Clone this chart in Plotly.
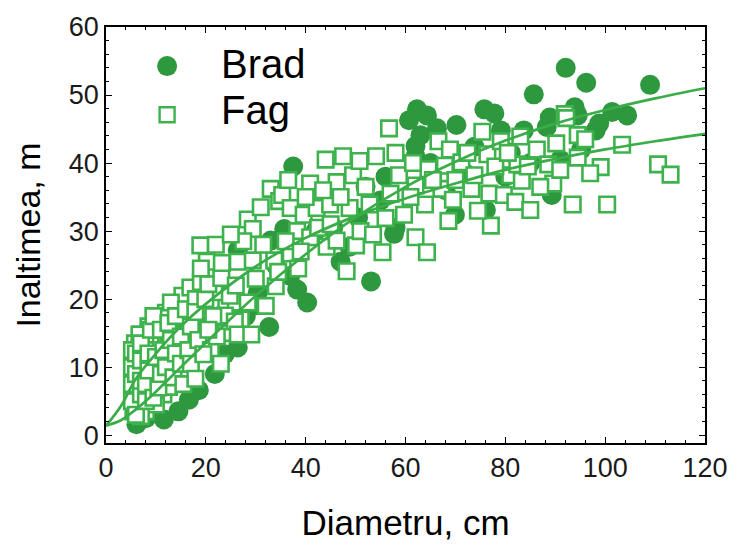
import plotly.graph_objects as go

# ---------------- data ----------------
brad_x = [37.5, 92.1, 96.2, 109.0, 85.7, 62.3, 64.3, 75.8, 77.8, 70.2, 93.9, 88.9, 94.5,
          98.8, 101.4, 104.4, 98.1, 60.7, 63.0, 66.3, 73.8, 79.1, 83.7, 88.3, 95.2, 62.0,
          81.1, 89.3, 76.1, 69.9, 58.0, 53.1, 40.3, 32.7, 26.4, 33.0, 35.7, 38.3, 36.9,
          30.4, 23.8, 18.6, 11.6, 6.1, 26.4, 57.7, 48.8, 30.4, 21.8, 16.6, 9.3,
          45.5, 50.5, 55.0, 47.0, 62.0, 65.0, 72.0, 80.0, 85.0, 91.0, 68.0, 56.0, 52.0,
          13.0, 14.5, 8.0, 20.0, 28.0, 34.0, 42.0, 24.0]
brad_y = [39.5, 54.0, 51.8, 51.5, 50.1, 47.9, 47.0, 47.9, 47.3, 45.6, 48.2, 46.7, 47.0,
          45.8, 47.5, 47.0, 44.8, 46.3, 44.1, 45.1, 42.4, 44.8, 44.8, 45.3, 42.0, 41.0,
          41.5, 35.3, 33.1, 32.4, 30.5, 22.6, 19.5, 15.9, 27.2, 28.6, 30.3, 21.4, 23.4,
          21.0, 11.9, 6.6, 2.3, 1.6, 12.9, 29.6, 27.7, 19.1, 9.0, 5.2, 4.3,
          30.5, 32.0, 34.5, 25.5, 42.5, 40.0, 38.5, 38.0, 40.0, 40.5, 36.0, 38.0, 36.5,
          7.5, 3.5, 2.5, 16.0, 17.5, 25.0, 30.0, 21.0]

fag_x = [5.5, 5.5, 5.5, 5.5, 5.8, 6.2, 6.5, 6.5, 6.8, 7.0, 7.5, 7.5, 8.0, 8.0, 8.5, 9.0,
         9.0, 9.3, 9.5, 10.0, 10.0, 10.5, 10.5, 11.0, 11.5, 11.5, 12.0, 12.0, 12.6, 12.6,
         13.0, 13.5, 14.0, 14.3, 14.5, 15.0, 15.3, 15.5, 16.0, 16.9, 16.5, 6.7, 8.0, 10.0,
         7.0, 11.0, 13.0,
         5.2, 5.2, 5.2, 5.2, 6.0, 6.0, 6.0, 7.0, 7.0, 7.0, 7.0, 8.0, 8.0, 8.5, 8.5, 9.0,
         9.5, 9.5, 10.0, 10.5, 11.0, 11.0, 11.5, 12.0, 12.5, 13.0, 13.5, 14.0, 14.0, 15.0,
         15.0, 16.0, 16.5, 17.0, 18.0, 18.5, 19.0, 21.0, 22.5, 24.0, 26.0, 27.0, 21.0, 23.0,
         15.5, 17.0,
         17.9, 17.9, 18.9, 19.5, 19.9, 20.2, 20.5, 22.2, 23.1, 23.2, 23.8, 24.8, 25.8, 26.4,
         26.4, 28.4, 28.4, 29.1, 29.4, 29.4, 33.0, 33.7, 34.0, 34.7, 35.3, 37.0, 37.0, 38.3,
         39.6, 40.9, 40.9, 42.2, 44.2, 44.9, 46.2, 46.2, 48.2, 48.8, 49.5, 50.1, 50.8, 52.8,
         54.1, 55.4, 56.0, 56.7, 58.0, 58.7, 59.7, 62.0, 62.0, 63.9, 64.3, 64.6, 66.6, 67.2,
         67.9, 68.6, 68.9, 69.5, 71.2, 72.4, 73.2, 73.8, 75.4, 76.4, 76.8, 77.1, 79.1, 79.7,
         81.0, 82.0, 82.4, 83.0, 83.3, 85.0, 86.3, 88.6, 89.6, 90.2, 91.9, 92.2, 93.5, 94.5,
         94.5, 99.1, 100.4, 103.4, 110.6, 113.1,
         30.0, 31.5, 32.0, 36.0, 38.5, 40.0, 42.5, 43.5, 45.0, 47.0, 51.0, 52.0, 53.5, 57.0,
         61.0, 61.5, 65.5, 70.0, 74.5, 78.0, 80.5, 84.5, 87.0, 91.0, 96.0, 97.0, 26.0, 27.5,
         21.5, 22.0, 25.0, 31.0, 36.5, 44.0, 47.5, 20.5, 19.0, 34.5, 39.0]
fag_y = [3.5, 6.0, 8.5, 11.0, 13.5, 4.5, 7.0, 10.0, 12.5, 14.8, 5.5, 9.0, 11.5, 13.8, 16.0, 7.0,
         10.5, 14.3, 12.5, 8.5, 15.5, 17.0, 11.0, 13.5, 6.0, 9.5, 15.0, 18.0, 13.1, 7.1,
         11.0, 16.5, 19.0, 10.0, 13.5, 17.2, 20.5, 12.0, 15.0, 21.7, 9.5, 14.8, 3.5, 4.5,
         2.8, 17.5, 19.5,
         5.0, 7.5, 10.0, 12.5, 3.0, 9.0, 12.0, 6.0, 8.0, 11.0, 13.5, 5.0, 7.5, 9.5, 12.0, 15.5,
         5.5, 17.5, 11.5, 7.0, 9.0, 15.5, 12.5, 10.0, 16.5, 14.0, 8.5, 12.0, 17.5, 10.5,
         14.5, 18.5, 12.5, 16.0, 20.0, 14.0, 22.5, 19.0, 21.0, 15.0, 19.5, 17.0, 12.5, 10.5,
         7.5, 10.5,
         8.3, 18.1, 27.9, 11.9, 20.0, 25.5, 22.2, 14.5, 23.1, 25.3, 17.6, 20.5, 16.7, 14.8,
         25.5, 19.5, 31.7, 14.8, 25.7, 30.3, 36.2, 25.7, 21.9, 34.4, 35.3, 26.7, 33.4, 30.0,
         32.4, 37.0, 29.1, 33.4, 27.7, 33.9, 37.2, 28.6, 24.1, 33.4, 38.2, 27.9, 40.3, 33.9,
         41.0, 26.9, 31.9, 45.1, 41.5, 38.2, 32.4, 36.7, 29.1, 33.9, 26.9, 39.1, 43.2, 36.2,
         39.6, 31.5, 42.0, 34.6, 40.1, 41.5, 36.2, 38.2, 44.6, 41.3, 35.5, 30.8, 43.2, 35.3,
         38.2, 34.3, 39.8, 43.9, 37.4, 33.1, 42.0, 39.8, 37.0, 42.9, 47.2, 46.6, 33.9, 40.8,
         44.1, 39.4, 33.9, 42.7, 39.8, 38.3,
         23.0, 28.0, 19.0, 28.5, 24.5, 35.0, 30.5, 36.0, 31.0, 35.0, 30.0, 36.5, 29.5, 35.5,
         35.0, 40.0, 37.5, 37.5, 33.0, 39.5, 41.5, 39.5, 36.5, 39.0, 43.5, 38.5, 22.0, 28.5,
         17.5, 28.0, 29.5, 33.5, 37.5, 40.5, 41.0, 15.5, 24.5, 24.0, 27.0]

fit_x = [0, 3, 6, 10, 15, 20, 30, 40, 50, 60, 70, 80, 90, 100, 110, 120]
brad_fit_y = [1.4, 2.2, 3.8, 6.4, 10.0, 13.6, 20.5, 26.6, 32.0, 36.5, 40.2, 43.3, 45.8, 47.8, 49.5, 51.0]
fag_fit_y = [1.4, 4.3, 8.3, 12.0, 16.0, 19.3, 24.8, 29.0, 32.2, 34.8, 37.0, 39.0, 40.6, 42.0, 43.2, 44.3]

x_ticks = [0, 20, 40, 60, 80, 100, 120]
y_ticks = [0, 10, 20, 30, 40, 50, 60]

# ---------------- styles ----------------
BRAD_COL = "rgb(46,152,62)"
FAG_COL = "rgb(62,178,76)"
LINE_COL = "rgb(58,172,72)"
FONT = "Liberation Sans, Arial, sans-serif"

fig = go.Figure()
fig.add_trace(go.Scatter(x=brad_x, y=brad_y, mode="markers", name="Brad",
                         marker=dict(symbol="circle", size=20, color=BRAD_COL, line=dict(width=0))))
fig.add_trace(go.Scatter(x=fag_x, y=fag_y, mode="markers", name="Fag",
                         marker=dict(symbol="square", size=15.5, color="white",
                                     line=dict(width=2.6, color=FAG_COL))))
fig.add_trace(go.Scatter(x=fit_x, y=brad_fit_y, mode="lines", line=dict(color=LINE_COL, width=2.7, shape="spline"),
                         showlegend=False))
fig.add_trace(go.Scatter(x=fit_x, y=fag_fit_y, mode="lines", line=dict(color=LINE_COL, width=2.7, shape="spline"),
                         showlegend=False))

axis_common = dict(showline=True, linecolor="black", linewidth=1.5, mirror="allticks",
                   ticks="inside", ticklen=6, tickwidth=1.2, tickcolor="black",
                   showgrid=False, zeroline=False,
                   tickfont=dict(family=FONT, size=27, color="#1a1a1a"))

fig.update_xaxes(range=[0, 120], tickvals=x_ticks, **axis_common,
                 minor=dict(dtick=4, tick0=0, ticks="inside", ticklen=3, tickcolor="black", showgrid=False),
                 title=dict(text="Diametru, cm", font=dict(family=FONT, size=35, color="black"), standoff=28))
fig.update_yaxes(range=[-1.15, 60], tickvals=y_ticks, **axis_common,
                 minor=dict(dtick=2, tick0=0, ticks="inside", ticklen=3, tickcolor="black", showgrid=False),
                 title=dict(text="Inaltimea, m", font=dict(family=FONT, size=34, color="black"), standoff=18))

# custom legend
fig.add_shape(type="circle", xref="paper", yref="paper", xsizemode="pixel", ysizemode="pixel",
              xanchor=0.102, yanchor=0.906, x0=-10, x1=10, y0=-10, y1=10,
              fillcolor=BRAD_COL, line=dict(width=0))
fig.add_shape(type="rect", xref="paper", yref="paper", xsizemode="pixel", ysizemode="pixel",
              xanchor=0.102, yanchor=0.789, x0=-7.5, x1=7.5, y0=-7.5, y1=7.5,
              fillcolor="white", line=dict(width=2.4, color=FAG_COL))
fig.add_annotation(text="Brad", xref="paper", yref="paper", x=0.188, y=0.912, xanchor="left", yanchor="middle",
                   showarrow=False, font=dict(family=FONT, size=40, color="black"))
fig.add_annotation(text="Fag", xref="paper", yref="paper", x=0.188, y=0.80, xanchor="left", yanchor="middle",
                   showarrow=False, font=dict(family=FONT, size=40, color="black"))

fig.update_layout(width=740, height=548, margin=dict(l=106, r=26, t=24, b=97),
                  plot_bgcolor="white", paper_bgcolor="white", showlegend=False)

fig.write_html("out.html")
